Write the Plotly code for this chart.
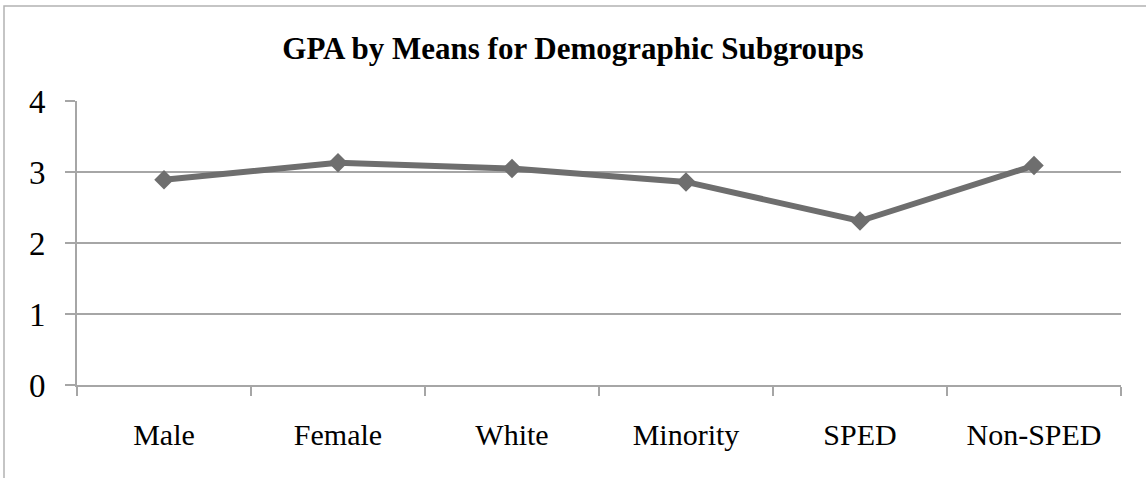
import plotly.graph_objects as go

# Mean GPA for each demographic subgroup
groups = ["Male", "Female", "White", "Minority", "SPED", "Non-SPED"]
gpa_means = [2.89, 3.13, 3.05, 2.86, 2.31, 3.09]
y_ticks = [0, 1, 2, 3, 4]

W, H = 1146, 478
ML, MR, MT, MB = 77, 25, 101, 93
pw, ph = W - ML - MR, H - MT - MB

SERIF = "Liberation Serif, Times New Roman, serif"
GRID = "#a6a6a6"
LINE = "#6e6e6e"

fig = go.Figure(
    go.Scatter(
        x=groups,
        y=gpa_means,
        mode="lines+markers",
        line=dict(color=LINE, width=6),
        marker=dict(symbol="diamond", size=15, color=LINE),
        hoverinfo="x+y",
    )
)

# Outer chart frame (left and top edges fall inside the page)
fig.add_shape(
    type="rect", xref="paper", yref="paper",
    x0=(4 - ML) / pw, x1=(W + 10 - ML) / pw,
    y0=-(H + 10 - MT - ph) / ph, y1=(MT - 6) / ph + 1,
    line=dict(color="#b3b3b3", width=1.5),
    fillcolor="rgba(0,0,0,0)", layer="below",
)

fig.update_layout(
    width=W, height=H,
    margin=dict(l=ML, r=MR, t=MT, b=MB),
    paper_bgcolor="white", plot_bgcolor="white",
    showlegend=False,
    title=dict(
        text="<b>GPA by Means for Demographic Subgroups</b>",
        x=0.5, xanchor="center", y=1 - 48 / H, yanchor="middle",
        font=dict(family=SERIF, size=31, color="black"),
    ),
    font=dict(family=SERIF, color="black"),
)

fig.update_xaxes(
    type="category",
    tickson="boundaries",
    showgrid=False,
    showline=True, linecolor=GRID, linewidth=2,
    ticks="outside", ticklen=9, tickcolor=GRID, tickwidth=2,
    tickfont=dict(family=SERIF, size=30, color="black"),
    ticklabelstandoff=22,
    range=[-0.5, len(groups) - 0.5],
    fixedrange=True,
)

fig.update_yaxes(
    range=[0, 4],
    tickvals=y_ticks,
    showgrid=True, gridcolor=GRID, gridwidth=2,
    showline=True, linecolor=GRID, linewidth=2,
    ticks="outside", ticklen=10, tickcolor=GRID, tickwidth=2,
    tickfont=dict(family=SERIF, size=33, color="black"),
    ticklabelstandoff=13,
    zeroline=False,
    fixedrange=True,
)

fig.write_html("out.html")
